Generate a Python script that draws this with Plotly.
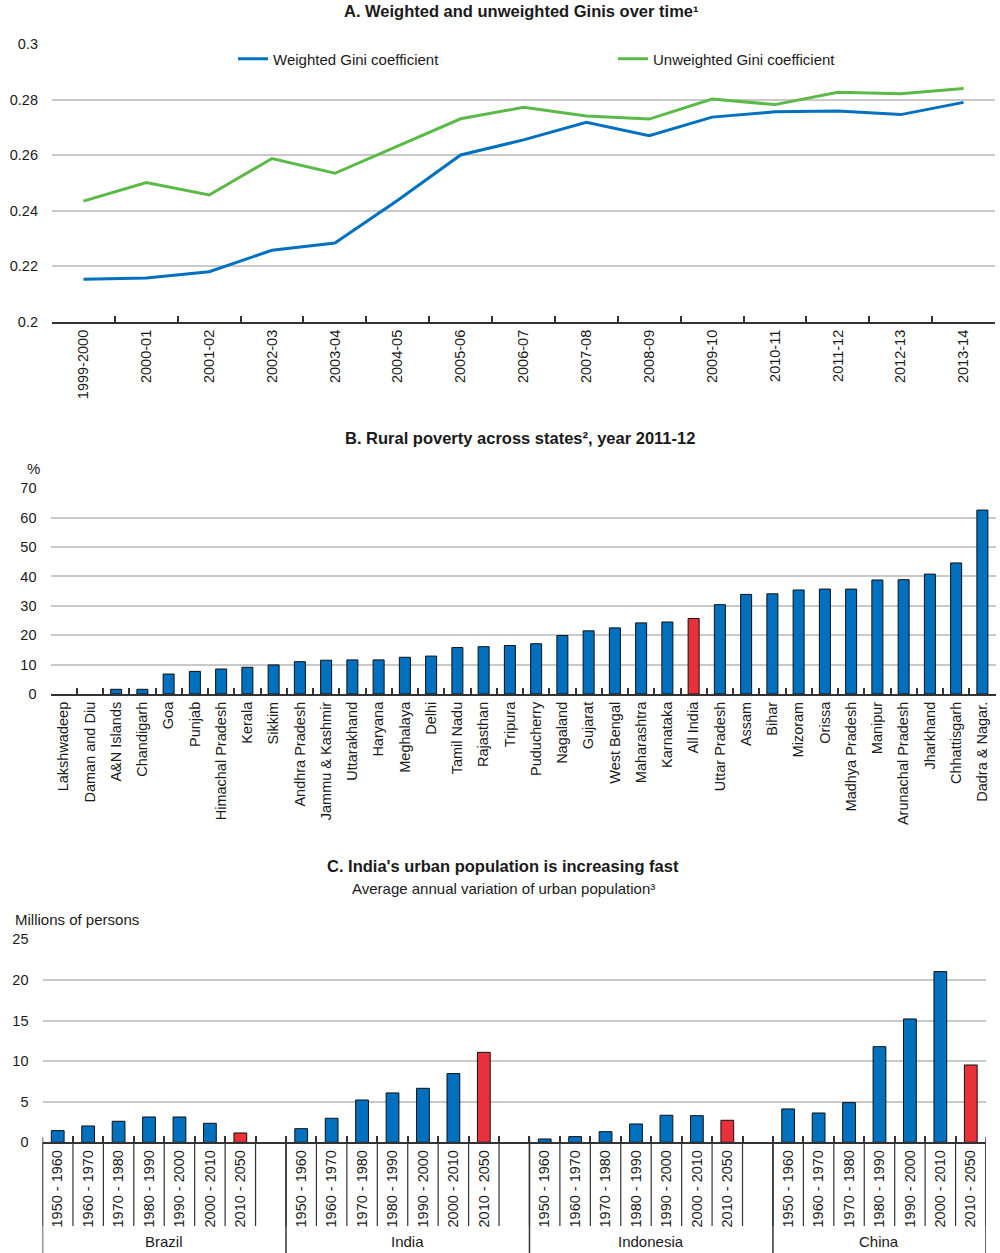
import plotly.graph_objects as go

# ---------------- Data ----------------
years = ["1999-2000", "2000-01", "2001-02", "2002-03", "2003-04", "2004-05", "2005-06",
         "2006-07", "2007-08", "2008-09", "2009-10", "2010-11", "2011-12", "2012-13", "2013-14"]
weighted_gini = [0.2154, 0.2158, 0.2181, 0.2258, 0.2284, 0.2438, 0.2601, 0.2655, 0.2718,
                 0.2670, 0.2737, 0.2756, 0.2759, 0.2746, 0.2790]
unweighted_gini = [0.2435, 0.2502, 0.2457, 0.2588, 0.2535, 0.2634, 0.2731, 0.2772, 0.2741,
                   0.2730, 0.2802, 0.2782, 0.2826, 0.2821, 0.2840]

states = ["Lakshwadeep", "Daman and Diu", "A&N Islands", "Chandigarh", "Goa", "Punjab",
          "Himachal Pradesh", "Kerala", "Sikkim", "Andhra Pradesh", "Jammu & Kashmir",
          "Uttarakhand", "Haryana", "Meghalaya", "Delhi", "Tamil Nadu", "Rajasthan", "Tripura",
          "Puducherry", "Nagaland", "Gujarat", "West Bengal", "Maharashtra", "Karnataka",
          "All India", "Uttar Pradesh", "Assam", "Bihar", "Mizoram", "Orissa", "Madhya Pradesh",
          "Manipur", "Arunachal Pradesh", "Jharkhand", "Chhattisgarh", "Dadra & Nagar."]
rural_poverty = [0.0, 0.0, 1.6, 1.6, 6.8, 7.7, 8.5, 9.1, 9.9, 11.0, 11.5, 11.6, 11.6, 12.5,
                 12.9, 15.8, 16.1, 16.5, 17.1, 19.9, 21.5, 22.5, 24.2, 24.5, 25.7, 30.4, 33.9,
                 34.1, 35.4, 35.7, 35.7, 38.8, 38.9, 40.8, 44.6, 62.6]

countries = ["Brazil", "India", "Indonesia", "China"]
periods = ["1950 - 1960", "1960 - 1970", "1970 - 1980", "1980 - 1990", "1990 - 2000",
           "2000 - 2010", "2010 - 2050"]
urban_brazil = [1.44, 2.01, 2.59, 3.12, 3.12, 2.34, 1.15]
urban_india = [1.68, 2.96, 5.21, 6.08, 6.65, 8.46, 11.08]
urban_indonesia = [0.41, 0.70, 1.31, 2.26, 3.33, 3.28, 2.71]
urban_china = [4.11, 3.61, 4.89, 11.78, 15.19, 21.02, 9.52]

# ---------------- Style ----------------
BLUE = "#0070BF"
GREEN = "#5BB947"
RED = "#E8313A"
GRID = "#C9C9C9"
AXIS = "#333333"
TXT = "#1a1a1a"
FONT = "Liberation Sans, Arial, sans-serif"

W, H = 1000, 1253


def px_y(p):
    return 1 - p / H


def px_x(p):
    return p / W


fig = go.Figure()

# Panel A
fig.add_trace(go.Scatter(x=years, y=weighted_gini, mode="lines", name="Weighted Gini coefficient",
                         line=dict(color=BLUE, width=3), xaxis="x", yaxis="y"))
fig.add_trace(go.Scatter(x=years, y=unweighted_gini, mode="lines", name="Unweighted Gini coefficient",
                         line=dict(color=GREEN, width=3), xaxis="x", yaxis="y"))

# Panel B
b_colors = [RED if s == "All India" else BLUE for s in states]
b_line_w = [0 if v == 0 else 1 for v in rural_poverty]
fig.add_trace(go.Bar(x=states, y=rural_poverty,
                     marker=dict(color=b_colors, line=dict(color="#111", width=b_line_w)),
                     showlegend=False, xaxis="x2", yaxis="y2"))

# Panel C : one category slot per (country, period), plus an empty slot between countries
c_keys, c_text, c_vals, c_cols = [], [], [], []
group_slots = []  # (country, first slot index, last slot index)
series = [urban_brazil, urban_india, urban_indonesia, urban_china]
for i, (c, vals) in enumerate(zip(countries, series)):
    start = len(c_keys)
    for p, v in zip(periods, vals):
        c_keys.append(c + "|" + p)
        c_text.append(p)
        c_vals.append(v)
        c_cols.append(RED if p == "2010 - 2050" else BLUE)
    if i < len(countries) - 1:
        c_keys.append(c + "|gap")
        c_text.append("")
        c_vals.append(None)
        c_cols.append(BLUE)
    group_slots.append((c, start, len(c_keys) - 1))

fig.add_trace(go.Bar(x=c_keys, y=c_vals, marker=dict(color=c_cols, line=dict(color="#111", width=1)),
                     showlegend=False, xaxis="x3", yaxis="y3"))

tickfont = dict(family=FONT, size=14.5, color=TXT)

common_x = dict(type="category", showline=True, linecolor=AXIS, linewidth=2, showgrid=False,
                automargin=False, ticks="inside", tickson="boundaries", ticklen=6, tickcolor=AXIS,
                tickwidth=2, tickangle=-90, tickfont=tickfont, zeroline=False)
common_y = dict(showline=False, showgrid=True, gridcolor=GRID, gridwidth=1.5, zeroline=False,
                ticks="", tickfont=tickfont, automargin=False, ticklabelstandoff=13)

fig.update_layout(
    width=W, height=H, margin=dict(l=0, r=0, t=0, b=0, autoexpand=False),
    paper_bgcolor="white", plot_bgcolor="white",
    font=dict(family=FONT, color=TXT),
    bargap=0.58,
    xaxis=dict(domain=[px_x(52), px_x(995)], anchor="y",
               range=[-0.5, len(years) - 0.5], **common_x),
    yaxis=dict(domain=[px_y(322), px_y(44)], range=[0.2, 0.3], dtick=0.02, anchor="x", **common_y),
    xaxis2=dict(domain=[px_x(50.5), px_x(995.5)], anchor="y2", **common_x),
    yaxis2=dict(domain=[px_y(694), px_y(488.3)], range=[0, 70], dtick=10, anchor="x2", **common_y),
    xaxis3=dict(domain=[px_x(42.5), px_x(986)], anchor="y3", tickmode="array", tickvals=c_keys,
                ticktext=c_text, range=[-0.5, len(c_keys) - 0.5], **common_x),
    yaxis3=dict(domain=[px_y(1142.3), px_y(939.3)], range=[0, 25], dtick=5, anchor="x3", **common_y),
    legend=dict(orientation="h", x=px_x(233), y=px_y(59), xanchor="left", yanchor="middle",
                entrywidth=335, entrywidthmode="pixels", font=dict(family=FONT, size=15, color=TXT),
                bgcolor="rgba(0,0,0,0)"),
)

# separators between the rotated period labels, and group dividers (at category boundaries)
c_dom_h = 1142.3 - 939.3
shapes = []
for k in range(len(c_keys) + 1):
    shapes.append(dict(type="line", xref="x3", yref="y3 domain", x0=k - 0.5, x1=k - 0.5,
                       y0=0, y1=-(1226 - 1142.3) / c_dom_h, line=dict(color=AXIS, width=1.2)))
group_edges = [g[1] for g in group_slots] + [group_slots[-1][2] + 1]
for e in group_edges:
    shapes.append(dict(type="line", xref="x3", yref="y3 domain", x0=e - 0.5, x1=e - 0.5,
                       y0=0.025, y1=-(1253 - 1142.3) / c_dom_h, line=dict(color=AXIS, width=1.5)))
fig.update_layout(shapes=shapes)

TF = dict(family=FONT, size=16.5, color=TXT)
RF = dict(family=FONT, size=15, color=TXT)
ann = []
ann.append(dict(text="<b>A. Weighted and unweighted Ginis over time¹</b>", x=px_x(521), y=px_y(11),
                xref="paper", yref="paper", showarrow=False, xanchor="center", yanchor="middle", font=TF))
ann.append(dict(text="<b>B. Rural poverty across states², year 2011-12</b>", x=px_x(520), y=px_y(438),
                xref="paper", yref="paper", showarrow=False, xanchor="center", yanchor="middle", font=TF))
ann.append(dict(text="%", x=px_x(33), y=px_y(468), xref="paper", yref="paper", showarrow=False,
                xanchor="center", yanchor="middle", font=RF))
ann.append(dict(text="<b>C. India's urban population is increasing fast</b>", x=px_x(503), y=px_y(866),
                xref="paper", yref="paper", showarrow=False, xanchor="center", yanchor="middle", font=TF))
ann.append(dict(text="Average annual variation of urban population³", x=px_x(503), y=px_y(888),
                xref="paper", yref="paper", showarrow=False, xanchor="center", yanchor="middle", font=RF))
ann.append(dict(text="Millions of persons", x=px_x(13), y=px_y(919), xref="paper", yref="paper",
                showarrow=False, xanchor="left", yanchor="middle", font=RF))
for c, s0, s1 in group_slots:
    ann.append(dict(text=c, x=(s0 + s1) / 2, y=px_y(1241), xref="x3", yref="paper", showarrow=False,
                    xanchor="center", yanchor="middle", font=RF))
fig.update_layout(annotations=ann)

fig.write_html("out.html", config={"displayModeBar": False},
               post_script="document.body.style.margin='0';document.body.style.overflow='hidden';")
